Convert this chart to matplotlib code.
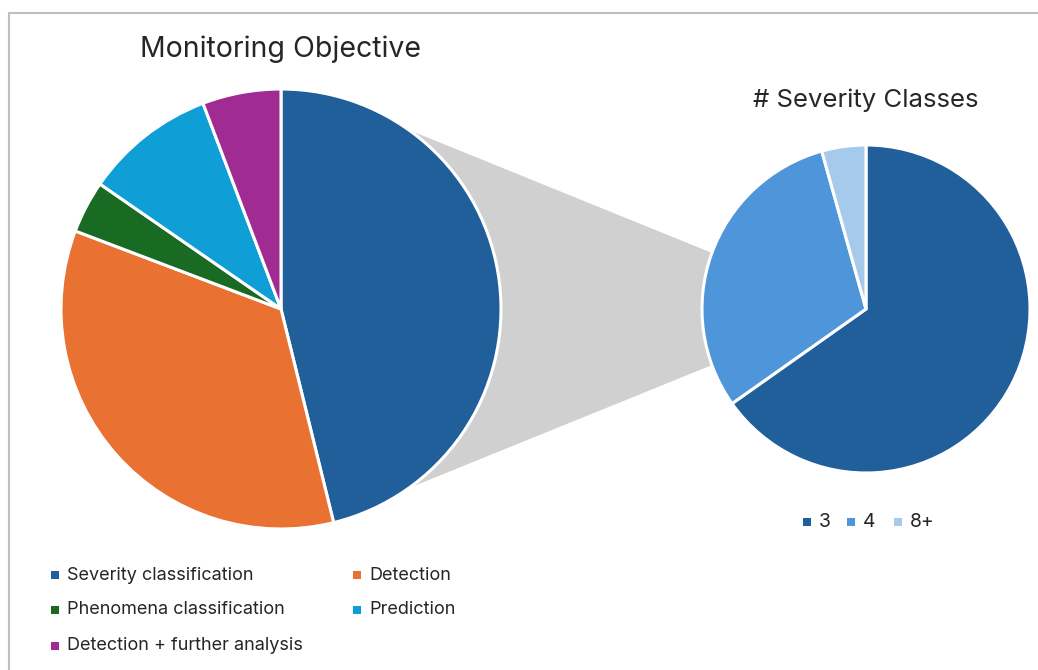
import numpy as np
import matplotlib
matplotlib.use("Agg")
import matplotlib.pyplot as plt
from matplotlib.patches import Polygon, Rectangle
from matplotlib.lines import Line2D

plt.rcParams['font.family'] = ['Inter', 'DejaVu Sans']

# ---- data ----
main_labels = ["Severity classification", "Detection", "Phenomena classification",
               "Prediction", "Detection + further analysis"]
main_values = [24, 18, 2, 5, 3]
main_colors = ["#215F9A", "#E97132", "#196B24", "#0F9ED5", "#A02B93"]

sub_labels = ["3", "4", "8+"]
sub_values = [15, 7, 1]
sub_colors = ["#215F9A", "#4E95D9", "#A6CAEC"]

W, H = 1038, 670
fig = plt.figure(figsize=(W / 100, H / 100), dpi=100)
ax = fig.add_axes([0, 0, 1, 1])
ax.set_xlim(0, W)
ax.set_ylim(0, H)
ax.set_aspect('equal')
ax.axis('off')

def py(y):
    return H - y

c1 = (281, py(309)); r1 = 220
c2 = (866, py(309)); r2 = 164

# connector polygon
a1 = np.deg2rad(54.5)
a2 = np.deg2rad(160)
pts = [
    (c1[0] + r1 * np.cos(a1), c1[1] + r1 * np.sin(a1)),
    (c2[0] + r2 * np.cos(a2), c2[1] + r2 * np.sin(a2)),
    c2,
    (c2[0] + r2 * np.cos(a2), c2[1] - r2 * np.sin(a2)),
    (c1[0] + r1 * np.cos(a1), c1[1] - r1 * np.sin(a1)),
    c1,
]
ax.add_patch(Polygon(pts, closed=True, facecolor="#D0D0D0", edgecolor="none", zorder=0))

wp = dict(edgecolor="white", linewidth=2.2)
w1, _ = ax.pie(main_values, colors=main_colors, startangle=90, counterclock=False,
               center=c1, radius=r1, wedgeprops=wp, frame=True)
w2, _ = ax.pie(sub_values, colors=sub_colors, startangle=90, counterclock=False,
               center=c2, radius=r2, wedgeprops=wp, frame=True)
for w in list(w1) + list(w2):
    w.set_zorder(2)
ax.set_xlim(0, W)
ax.set_ylim(0, H)
ax.axis('off')

# titles
ax.text(280, py(49), "Monitoring Objective", ha='center', va='center', fontsize=20.5, color="#262626")
ax.text(866, py(100), "# Severity Classes", ha='center', va='center', fontsize=18.5, color="#262626")

# border
ax.add_line(Line2D([9, 9], [0, py(13)], color="#BFBFBF", lw=1.5))
ax.add_line(Line2D([9, W], [py(13), py(13)], color="#BFBFBF", lw=1.5))

# main legend
leg_pos = [(55, 575), (357, 575), (55, 610), (357, 610), (55, 646)]
for (x, y), lab, col in zip(leg_pos, main_labels, main_colors):
    ax.add_patch(Rectangle((x - 4, py(y) - 4), 8, 8, facecolor=col, edgecolor='none'))
    ax.text(x + 12, py(y), lab, ha='left', va='center', fontsize=13, color="#262626")

# sub legend
sub_pos = [807, 851, 898]
for x, lab, col in zip(sub_pos, sub_labels, sub_colors):
    ax.add_patch(Rectangle((x - 4, py(522) - 4), 8, 8, facecolor=col, edgecolor='none'))
    ax.text(x + 12, py(522), lab, ha='left', va='center', fontsize=14, color="#262626")

fig.savefig("out.png", dpi=100)
